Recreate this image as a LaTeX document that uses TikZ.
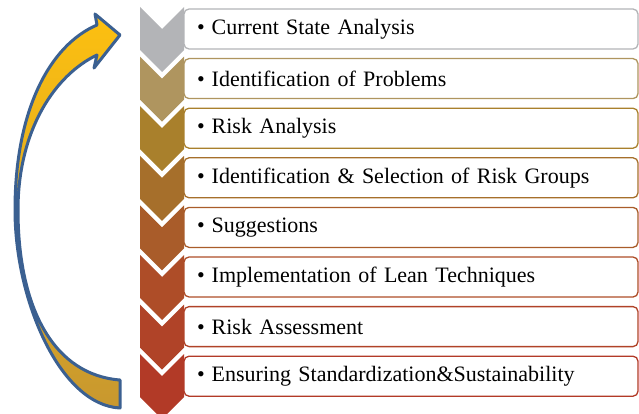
\documentclass[tikz,border=0pt]{standalone}
\usepackage{fontspec}
\setmainfont{Liberation Serif}
\usepackage{xcolor}
\usetikzlibrary{positioning}

\definecolor{arrowblue}{HTML}{3B6091}
\definecolor{arrowtop}{HTML}{FDC010}
\definecolor{arrowbot}{HTML}{C8982F}
\definecolor{stepA}{HTML}{B3B4B7}
\definecolor{stepB}{HTML}{AF955F}
\definecolor{stepC}{HTML}{A9802C}
\definecolor{stepD}{HTML}{A66F2B}
\definecolor{stepE}{HTML}{A95C2A}
\definecolor{stepF}{HTML}{AE4D28}
\definecolor{stepG}{HTML}{B04328}
\definecolor{stepH}{HTML}{B23A27}

\newcommand{\bul}{\textbullet\hspace{7pt}}

\begin{document}
\begin{tikzpicture}[
  x=1pt, y=-1pt,
  font=\fontsize{22}{26}\selectfont,
  node distance=9.6pt,
  stepbox/.style={draw=#1, rounded corners=5pt, line width=1.3pt, fill=white, outer sep=0pt, minimum width=454pt, minimum height=40pt, text width=428pt, inner xsep=13pt, inner ysep=0pt, align=left},
  loop arrow/.style={draw=arrowblue, line width=3pt, line join=round, top color=arrowtop, bottom color=arrowbot},
]
\useasboundingbox (0,0) rectangle (639,414);
% chevrons down the left
\foreach \c [count=\i from 0] in {stepA,stepB,stepC,stepD,stepE,stepF,stepG,stepH} {
  \pgfmathsetmacro\yt{7+49.6*\i}
  \fill[\c] (140,\yt) -- ++(22,22) -- ++(22,-22) -- ++(0,43) -- ++(-22,22) -- ++(-22,-22) -- cycle;
}
% step boxes
\node[stepbox=stepA, anchor=north west] (s1) at (184,9) {\bul Current State Analysis};
\node[stepbox=stepB, below=of s1] (s2) {\bul Identification of Problems};
\node[stepbox=stepC, below=of s2] (s3) {\bul Risk Analysis};
\node[stepbox=stepD, below=of s3] (s4) {\bul Identification \& Selection of Risk Groups};
\node[stepbox=stepE, below=of s4] (s5) {\bul Suggestions};
\node[stepbox=stepF, below=of s5] (s6) {\bul Implementation of Lean Techniques};
\node[stepbox=stepG, below=of s6] (s7) {\bul Risk Assessment};
\node[stepbox=stepH, below=of s7] (s8) {\bul Ensuring Standardization\&Sustainability};
% curved arrow back to the top
\path[loop arrow] (120,408) .. controls (60,405) and (15,300) .. (15,210)
  .. controls (15,110) and (50,45) .. (97,25)
  -- (95,14) -- (120,35) -- (94,68) -- (97,55)
  .. controls (55,75) and (18,130) .. (18,210)
  .. controls (18,310) and (55,375) .. (120,380) -- cycle;
\end{tikzpicture}
\end{document}
